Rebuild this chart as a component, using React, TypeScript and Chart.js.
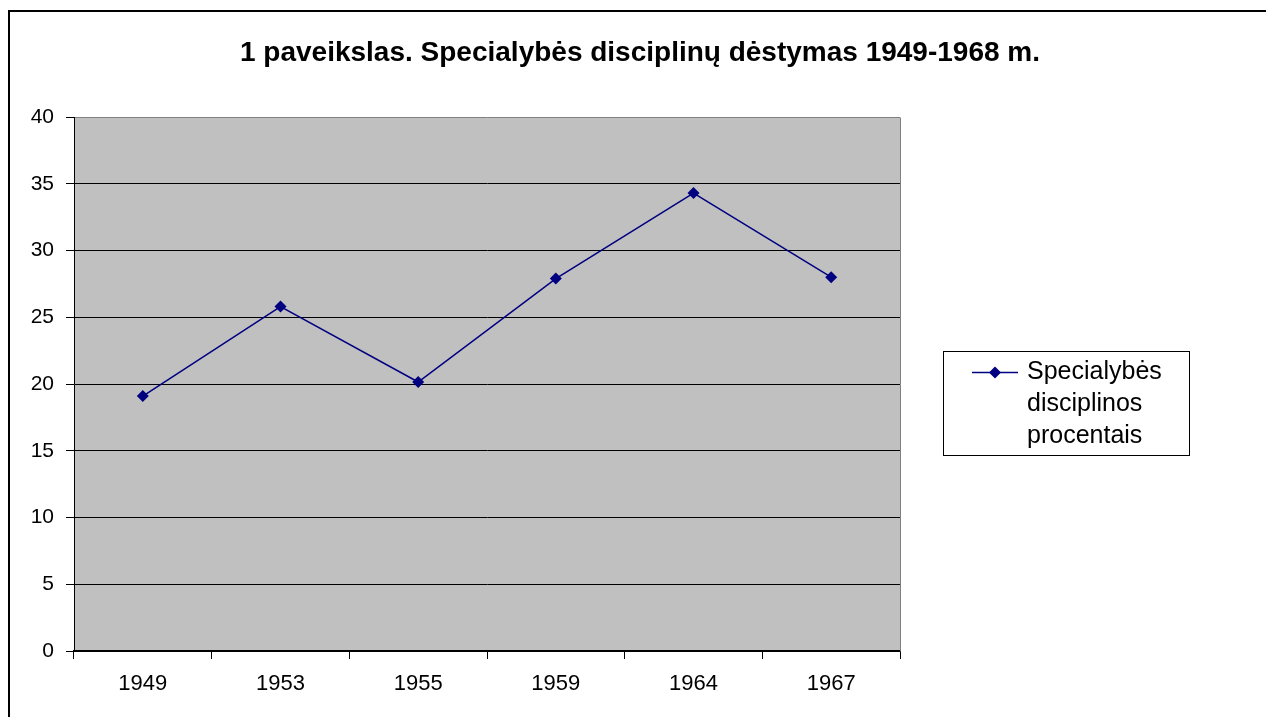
import React, { useEffect, useRef } from "react";
import { Chart, registerables } from "chart.js";

Chart.register(...registerables);

const categories = ["1949", "1953", "1955", "1959", "1964", "1967"];
const seriesValues = [19.1, 25.8, 20.15, 27.9, 34.3, 28.0];
const seriesLabel = ["Specialybės", "disciplinos", "procentais"];
const chartTitle = "1 paveikslas. Specialybės disciplinų dėstymas 1949-1968 m.";
const yTicks = [0, 5, 10, 15, 20, 25, 30, 35, 40];

const NAVY = "#000080";
const FONT = "Arial, 'Liberation Sans', sans-serif";

const framePlugin = {
  id: "frame",
  beforeDraw(chart: any) {
    const { ctx, chartArea } = chart;
    ctx.save();
    ctx.fillStyle = "#ffffff";
    ctx.fillRect(0, 0, chart.width, chart.height);
    ctx.fillStyle = "#C0C0C0";
    ctx.fillRect(chartArea.left, chartArea.top, chartArea.right - chartArea.left, chartArea.bottom - chartArea.top);
    ctx.strokeStyle = "#000000";
    ctx.lineWidth = 2;
    ctx.beginPath();
    ctx.moveTo(9, chart.height + 5);
    ctx.lineTo(9, 11);
    ctx.lineTo(chart.width + 5, 11);
    ctx.stroke();
    ctx.restore();
  },
  afterDraw(chart: any) {
    const { ctx, chartArea } = chart;
    ctx.save();
    ctx.strokeStyle = "#808080";
    ctx.lineWidth = 1;
    ctx.beginPath();
    ctx.moveTo(Math.round(chartArea.right) + 0.5, chartArea.bottom);
    ctx.lineTo(Math.round(chartArea.right) + 0.5, Math.round(chartArea.top) + 0.5);
    ctx.stroke();
    // title
    ctx.fillStyle = "#000000";
    ctx.font = `bold 28px ${FONT}`;
    ctx.textAlign = "center";
    ctx.textBaseline = "middle";
    ctx.fillText(chartTitle, 640, 53);
    // legend
    const bx = 943.5, by = 351.5, bw = 246, bh = 104;
    ctx.strokeStyle = "#000000";
    ctx.lineWidth = 1;
    ctx.strokeRect(bx, by, bw, bh);
    ctx.strokeStyle = NAVY;
    ctx.lineWidth = 1.5;
    ctx.beginPath();
    ctx.moveTo(972, 372.5);
    ctx.lineTo(1018, 372.5);
    ctx.stroke();
    ctx.fillStyle = NAVY;
    ctx.beginPath();
    ctx.moveTo(995, 366.5);
    ctx.lineTo(1001, 372.5);
    ctx.lineTo(995, 378.5);
    ctx.lineTo(989, 372.5);
    ctx.closePath();
    ctx.fill();
    ctx.fillStyle = "#000000";
    ctx.font = `25px ${FONT}`;
    ctx.textAlign = "left";
    ctx.textBaseline = "middle";
    seriesLabel.forEach((t, i) => ctx.fillText(t, 1027, 372 + i * 32));
    ctx.restore();
  },
};

export default function App() {
  const ref = useRef<HTMLCanvasElement>(null);
  useEffect(() => {
    if (!ref.current) return;
    const chart = new Chart(ref.current, {
      type: "line",
      data: {
        labels: categories,
        datasets: [
          {
            label: seriesLabel.join(" "),
            data: seriesValues,
            borderColor: NAVY,
            backgroundColor: NAVY,
            borderWidth: 1.5,
            pointStyle: "rectRot",
            pointRadius: 6,
            pointBorderWidth: 0,
            pointBackgroundColor: NAVY,
            tension: 0,
          },
        ],
      },
      options: {
        responsive: false,
        animation: false,
        layout: { padding: { left: 0, top: 117, right: 366, bottom: 0 } },
        plugins: { legend: { display: false }, title: { display: false }, tooltip: { enabled: false } },
        scales: {
          x: {
            type: "category",
            offset: true,
            grid: {
              offset: true,
              drawOnChartArea: false,
              drawTicks: true,
              tickLength: 8,
              color: "#000000",
              lineWidth: 1,
            },
            border: { display: true, color: "#000000", width: 1.5 },
            ticks: { color: "#000000", font: { family: FONT, size: 22 }, padding: 12, maxRotation: 0 },
            afterFit: (s: any) => { s.height = 66; },
          },
          y: {
            min: 0,
            max: 40,
            afterBuildTicks: (s: any) => { s.ticks = yTicks.map((v) => ({ value: v })); },
            grid: {
              color: (c: any) => (c.tick && c.tick.value === 40 ? "#808080" : "#000000"),
              tickColor: "#000000",
              lineWidth: 1,
              tickLength: 8,
            },
            border: { display: true, color: "#000000", width: 1 },
            ticks: { color: "#000000", font: { family: FONT, size: 21 }, padding: 12 },
            afterFit: (s: any) => { s.width = 74; },
          },
        },
      },
      plugins: [framePlugin],
    });
    return () => chart.destroy();
  }, []);
  return (
    <div style={{ position: "fixed", left: 0, top: 0, width: 1266, height: 717, background: "#fff" }}>
      <canvas ref={ref} width={1266} height={717} style={{ display: "block" }} />
    </div>
  );
}
